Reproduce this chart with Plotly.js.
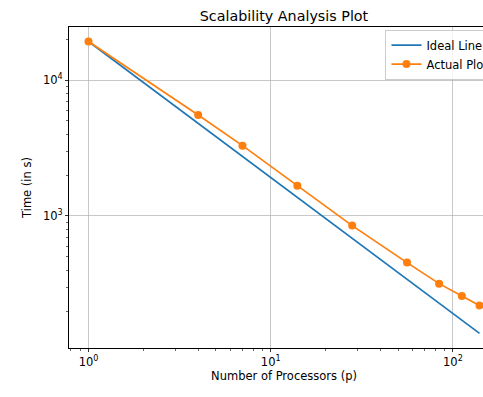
<!DOCTYPE html>
<html>
<head>
<meta charset="utf-8">
<script src="https://cdn.plot.ly/plotly-3.0.1.min.js"></script>
<style>
html,body{margin:0;padding:0;overflow:hidden;background:#fff;}
#chart{width:520px;height:397px;}
</style>
</head>
<body>
<div id="chart"></div>
<script>
// Data
const processors = [1, 4, 7, 14, 28, 56, 84, 112, 140];
const idealTime  = [19200, 4800, 2743, 1371, 686, 343, 229, 171, 137];
const actualTime = [19200, 5530, 3290, 1670, 850, 454, 318, 258, 220];
const xTickVals = [1, 10, 100];
const xTickText = ['10<sup>0</sup>', '10<sup>1</sup>', '10<sup>2</sup>'];
const yTickVals = [1000, 10000];
const yTickText = ['10<sup>3</sup>', '10<sup>4</sup>'];
const xMinor = [0.8, 0.9, 2, 3, 4, 5, 6, 7, 8, 9, 20, 30, 40, 50, 60, 70, 80, 90, 200];
const yMinor = [200, 300, 400, 500, 600, 700, 800, 900, 2000, 3000, 4000, 5000, 6000, 7000, 8000, 9000, 20000];

const font = {family: 'DejaVu Sans', size: 11.5, color: '#000'};

const traces = [
  {x: processors, y: idealTime, name: 'Ideal Line', mode: 'lines',
   line: {color: '#1f77b4', width: 1.7}},
  {x: processors, y: actualTime, name: 'Actual Plot', mode: 'lines+markers',
   line: {color: '#ff7f0e', width: 1.7}, marker: {color: '#ff7f0e', size: 8}}
];

const axisCommon = {
  type: 'log', showline: true, linecolor: '#000', linewidth: 1, mirror: true,
  ticks: 'outside', ticklen: 3, tickwidth: 0.8, tickcolor: '#000',
  showgrid: true, gridcolor: '#b0b0b0', gridwidth: 0.7, zeroline: false,
  tickfont: font, tickmode: 'array'
};

const layout = {
  width: 520, height: 397,
  margin: {l: 69, r: 21, t: 27, b: 49},
  paper_bgcolor: '#fff', plot_bgcolor: '#fff',
  font: font,
  title: {text: 'Scalability Analysis Plot', font: {family: 'DejaVu Sans', size: 14.3, color: '#000'},
          x: 0.5, xref: 'paper', y: 1, yref: 'paper', yanchor: 'bottom', pad: {b: 6}},
  xaxis: Object.assign({}, axisCommon, {
    range: [-0.107, 2.253], tickvals: xTickVals, ticktext: xTickText,
    minor: {tickmode: 'array', tickvals: xMinor, ticks: 'outside', ticklen: 2, tickwidth: 0.6, tickcolor: '#000', showgrid: false},
    title: {text: 'Number of Processors (p)', font: font, standoff: 4}
  }),
  yaxis: Object.assign({}, axisCommon, {
    range: [2.029, 4.39], tickvals: yTickVals, ticktext: yTickText,
    minor: {tickmode: 'array', tickvals: yMinor, ticks: 'outside', ticklen: 2, tickwidth: 0.6, tickcolor: '#000', showgrid: false},
    title: {text: 'Time (in s)', font: font, standoff: 8}
  }),
  showlegend: true,
  legend: {x: 0.736, y: 0.992, xanchor: 'left', yanchor: 'top',
           bgcolor: 'rgba(255,255,255,0.8)', bordercolor: '#cccccc', borderwidth: 1,
           font: font, tracegroupgap: 0, itemwidth: 30}
};

Plotly.newPlot('chart', traces, layout, {displayModeBar: false, staticPlot: true});
</script>
</body>
</html>
